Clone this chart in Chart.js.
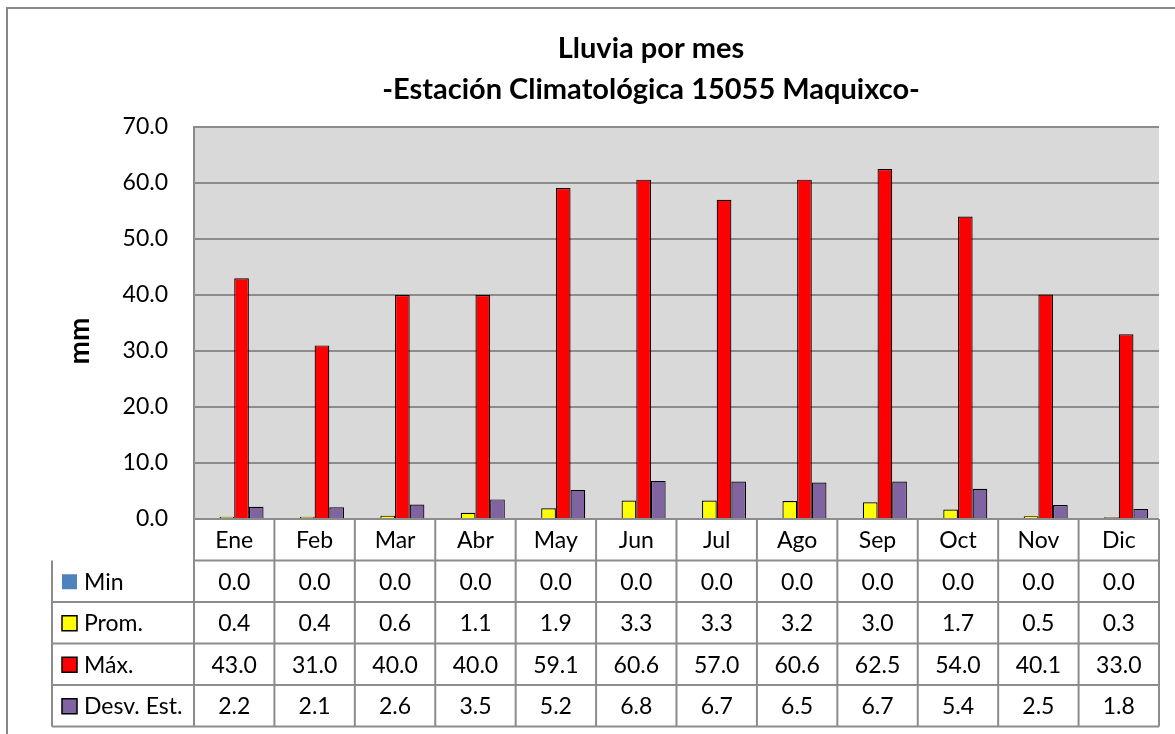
<!DOCTYPE html>
<html>
<head>
<meta charset="utf-8">
<title>Lluvia por mes</title>
<script src="https://cdn.jsdelivr.net/npm/chart.js@4.4.1/dist/chart.umd.min.js"></script>
<style>
  html, body { margin: 0; padding: 0; background: #fff; }
  canvas { display: block; }
</style>
</head>
<body>
<canvas id="lluviaChart" width="1175" height="734"></canvas>
<script>
// Datos de la estación 15055 Maquixco (mm)
const meses = ['Ene', 'Feb', 'Mar', 'Abr', 'May', 'Jun', 'Jul', 'Ago', 'Sep', 'Oct', 'Nov', 'Dic'];
const minimo = [0.0, 0.0, 0.0, 0.0, 0.0, 0.0, 0.0, 0.0, 0.0, 0.0, 0.0, 0.0];
const promedio = [0.4, 0.4, 0.6, 1.1, 1.9, 3.3, 3.3, 3.2, 3.0, 1.7, 0.5, 0.3];
const maximo = [43.0, 31.0, 40.0, 40.0, 59.1, 60.6, 57.0, 60.6, 62.5, 54.0, 40.1, 33.0];
const desvEst = [2.2, 2.1, 2.6, 3.5, 5.2, 6.8, 6.7, 6.5, 6.7, 5.4, 2.5, 1.8];
const titulo = ['Lluvia por mes', '-Estación Climatológica 15055 Maquixco-'];
const unidad = 'mm';

const series = [
  { label: 'Min', data: minimo, color: '#4F81BD', borde: 0 },
  { label: 'Prom.', data: promedio, color: '#FFFF00', borde: 1.2 },
  { label: 'Máx.', data: maximo, color: '#FF0000', borde: 1.2 },
  { label: 'Desv. Est.', data: desvEst, color: '#8064A2', borde: 1.2 }
];

const FUENTE = 'Lato, "Open Sans", sans-serif';
const GRIS = '#8C8C8C';

// fondo gris del área de trazado + marco exterior + títulos
const fondoPlugin = {
  id: 'fondo',
  beforeDraw(chart) {
    const { ctx, chartArea: a } = chart;
    ctx.save();
    ctx.fillStyle = '#D9D9D9';
    ctx.fillRect(a.left, a.top, a.right - a.left, a.bottom - a.top);
    // marco del gráfico (solo arriba e izquierda quedan a la vista)
    ctx.strokeStyle = '#878787';
    ctx.lineWidth = 2;
    ctx.beginPath();
    ctx.moveTo(7, chart.height);
    ctx.lineTo(7, 8);
    ctx.lineTo(chart.width, 8);
    ctx.stroke();
    // títulos
    ctx.fillStyle = '#000';
    ctx.font = 'bold 29px ' + FUENTE;
    ctx.textAlign = 'center';
    ctx.textBaseline = 'middle';
    ctx.fillText(titulo[0], 651, 49);
    ctx.fillText(titulo[1], 651, 90);
    // rótulo del eje Y
    ctx.translate(80, 341);
    ctx.rotate(-Math.PI / 2);
    ctx.font = 'bold 28px ' + FUENTE;
    ctx.fillText(unidad, 0, 0);
    ctx.restore();
  }
};

// tabla de datos bajo el eje X
const tablaPlugin = {
  id: 'tabla',
  afterDraw(chart) {
    const { ctx, chartArea: a, scales: { x } } = chart;
    const colW = (a.right - a.left) / meses.length;
    const rowH = 41.5;
    const top = a.bottom;
    const izq = 52;
    const nFilas = series.length + 1;
    const abajo = top + rowH * nFilas;

    ctx.save();
    ctx.strokeStyle = GRIS;
    ctx.lineWidth = 2;
    ctx.beginPath();
    for (let k = 1; k <= nFilas; k++) {
      ctx.moveTo(k === 1 ? a.left : izq, top + rowH * k);
      ctx.lineTo(a.right, top + rowH * k);
    }
    for (let i = 0; i <= meses.length; i++) {
      const xx = a.left + colW * i;
      ctx.moveTo(xx, top);
      ctx.lineTo(xx, abajo);
    }
    ctx.moveTo(izq, top + rowH);
    ctx.lineTo(izq, abajo);
    ctx.stroke();

    ctx.fillStyle = '#000';
    ctx.font = '23px ' + FUENTE;
    ctx.textBaseline = 'middle';
    ctx.textAlign = 'center';
    meses.forEach((m, i) => {
      ctx.fillText(m, x.getPixelForValue(i), top + rowH / 2 + 1);
    });

    series.forEach((s, r) => {
      const cy = top + rowH * (r + 1.5) + 1;
      // muestra de color
      ctx.fillStyle = s.color;
      ctx.fillRect(izq + 10, cy - 8, 15, 15);
      if (s.borde) {
        ctx.strokeStyle = '#000';
        ctx.lineWidth = 1.5;
        ctx.strokeRect(izq + 10, cy - 8, 15, 15);
      }
      ctx.fillStyle = '#000';
      ctx.textAlign = 'left';
      ctx.fillText(s.label, izq + 32, cy);
      ctx.textAlign = 'center';
      s.data.forEach((v, i) => {
        ctx.fillText(v.toFixed(1), x.getPixelForValue(i), cy);
      });
    });
    ctx.restore();
  }
};

new Chart(document.getElementById('lluviaChart'), {
  type: 'bar',
  data: {
    labels: meses,
    datasets: series.map(s => ({
      label: s.label,
      data: s.data,
      backgroundColor: s.color,
      borderColor: '#000',
      borderWidth: s.borde,
      categoryPercentage: 0.73,
      barPercentage: 1
    }))
  },
  options: {
    responsive: false,
    animation: false,
    devicePixelRatio: 1,
    layout: { padding: { top: 127, right: 16, bottom: 215, left: 0 } },
    plugins: {
      legend: { display: false },
      title: { display: false },
      tooltip: { enabled: false }
    },
    scales: {
      x: { display: false },
      y: {
        min: 0,
        max: 70,
        ticks: {
          stepSize: 10,
          padding: 26,
          color: '#000',
          font: { family: FUENTE, size: 23 },
          callback: v => v.toFixed(1)
        },
        grid: { color: GRIS, lineWidth: 2, drawTicks: false },
        border: { display: true, color: GRIS, width: 2 },
        afterFit: s => { s.width = 194; }
      }
    }
  },
  plugins: [fondoPlugin, tablaPlugin]
});
</script>
</body>
</html>
